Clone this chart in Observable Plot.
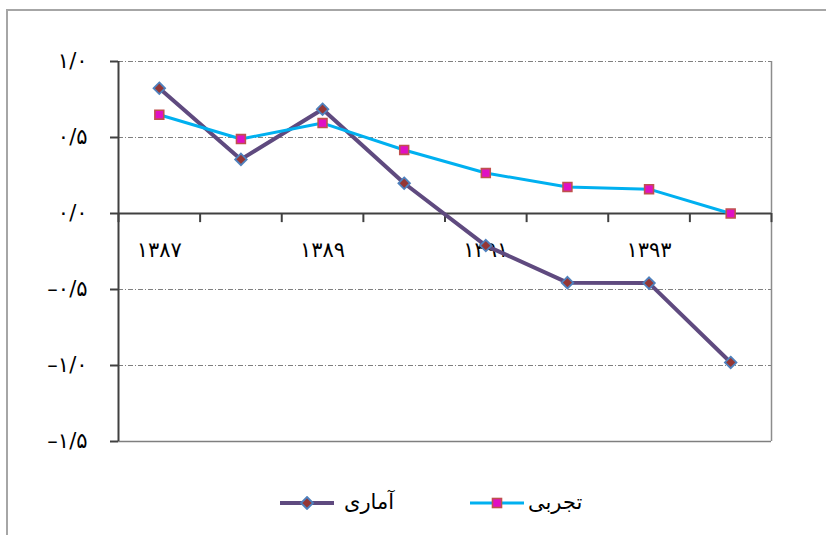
<!DOCTYPE html>
<html>
<head>
<meta charset="utf-8">
<script src="https://cdn.jsdelivr.net/npm/d3@7"></script>
<script src="https://cdn.jsdelivr.net/npm/@observablehq/plot@0.6"></script>
<style>
  html, body { margin: 0; padding: 0; background: #fff; overflow: hidden; }
  #wrap { position: relative; width: 826px; height: 535px; font-family: "DejaVu Sans", sans-serif; }
  #frame { position: absolute; left: 6px; top: 9px; width: 1000px; height: 1000px;
           border-left: 2px solid #a6a6a6; border-top: 2px solid #a6a6a6; }
  #chart { position: absolute; left: 0; top: 0; }
  .leg { position: absolute; font-size: 21px; color: #000; line-height: 26px; }
</style>
</head>
<body>
<div id="wrap">
  <div id="frame"></div>
  <div id="chart"></div>
  <div id="legend"></div>
</div>
<script>
const years = [1387, 1388, 1389, 1390, 1391, 1392, 1393, 1394];
const amari = [0.824, 0.356, 0.686, 0.199, -0.211, -0.455, -0.458, -0.98];
const tajrobi = [0.65, 0.49, 0.595, 0.418, 0.266, 0.175, 0.16, 0.0];
const seriesNames = ["آماری", "تجربی"];
const yTicks = [-1.5, -1, -0.5, 0, 0.5, 1];
const yTickLabels = ["–۱/۵", "–۱/۰", "–۰/۵", "۰/۰", "۰/۵", "۱/۰"];
const xLabelYears = [1387, 1389, 1391, 1393];
const xLabels = ["۱۳۸۷", "۱۳۸۹", "۱۳۹۱", "۱۳۹۳"];
const gridValues = [1, 0.5, -0.5, -1];

const purple = "#5f4a7f", cyan = "#00b0f0";
const data = years.map((yr, i) => ({year: yr, amari: amari[i], tajrobi: tajrobi[i]}));
const boundaries = years.map(y => y - 0.5).concat([years[years.length - 1] + 0.5]);
const xLab = xLabelYears.map((y, i) => ({year: y, label: xLabels[i]}));

const chart = Plot.plot({
  width: 826, height: 466,
  marginLeft: 118, marginRight: 55, marginTop: 61, marginBottom: 25,
  x: {type: "linear", domain: [boundaries[0], boundaries[boundaries.length - 1]], axis: null},
  y: {domain: [-1.5, 1], axis: null},
  style: {fontFamily: "DejaVu Sans, sans-serif", fontSize: "21px", background: "transparent", color: "#000"},
  marks: [
    Plot.ruleY(gridValues, {stroke: "#7f7f7f", strokeWidth: 1, strokeDasharray: "5,2,1,2"}),
    Plot.ruleY([-1.5], {stroke: "#7f7f7f", strokeWidth: 1.5}),
    Plot.ruleX([boundaries[boundaries.length - 1]], {stroke: "#8c8c8c", strokeWidth: 1.5}),
    Plot.axisY({ticks: yTicks, tickFormat: d => yTickLabels[yTicks.indexOf(d)], tickSize: 8, tickPadding: 23,
                stroke: "#404040", strokeWidth: 2, fontSize: 21, fill: "#000"}),
    Plot.ruleX([boundaries[0]], {stroke: "#404040", strokeWidth: 2}),
    Plot.ruleY([0], {stroke: "#404040", strokeWidth: 2}),
    Plot.ruleX(boundaries, {y1: 0, y2: -0.06, stroke: "#404040", strokeWidth: 2}),
    Plot.text(xLab, {x: "year", y: 0, dy: 37, text: "label", fontSize: 21, fill: "#000"}),
    Plot.line(data, {x: "year", y: "amari", stroke: purple, strokeWidth: 4}),
    Plot.dot(data, {x: "year", y: "amari", symbol: "diamond2", r: 5.2, fill: "#953735", stroke: "#4f81bd", strokeWidth: 1.8}),
    Plot.line(data, {x: "year", y: "tajrobi", stroke: cyan, strokeWidth: 3}),
    Plot.dot(data, {x: "year", y: "tajrobi", symbol: "square", r: 5, fill: "#e010c4", stroke: "#c0504d", strokeWidth: 1.6})
  ]
});
document.getElementById("chart").appendChild(chart);

const legend = document.getElementById("legend");
legend.innerHTML = `
  <svg class="leg" style="left:279px;top:496px" width="56" height="14">
    <line x1="1" y1="7" x2="55" y2="7" stroke="${purple}" stroke-width="4"/>
    <path d="M28,1 L34,7 L28,13 L22,7 Z" fill="#953735" stroke="#4f81bd" stroke-width="1.8"/>
  </svg>
  <div class="leg" dir="rtl" style="left:344px;top:489px">${seriesNames[0]}</div>
  <svg class="leg" style="left:470px;top:496px" width="56" height="14">
    <line x1="0" y1="7" x2="54" y2="7" stroke="${cyan}" stroke-width="3"/>
    <rect x="22.5" y="2.5" width="9" height="9" fill="#e010c4" stroke="#c0504d" stroke-width="1.6"/>
  </svg>
  <div class="leg" dir="rtl" style="left:528px;top:489px">${seriesNames[1]}</div>
`;
</script>
</body>
</html>
